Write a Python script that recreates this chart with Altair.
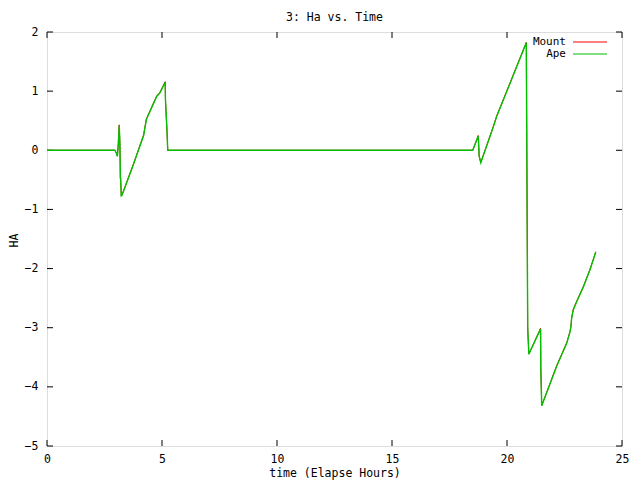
import altair as alt
import pandas as pd

# ---- data ----
t_vals = [0.0, 2.95, 3.02, 3.06, 3.10, 3.14, 3.17, 3.19, 3.20, 3.23, 3.26,
          3.75, 4.20, 4.32, 4.77, 4.91, 5.14, 5.15, 5.22, 5.25,
          18.51, 18.60, 18.71, 18.75, 18.79, 18.86, 19.41, 19.55, 20.13, 20.84,
          20.85, 20.90, 20.95, 21.46, 21.47, 21.51, 22.16, 22.60, 22.74, 22.78,
          22.81, 22.88, 23.03, 23.32, 23.61, 23.86]
ape_vals = [0.0, 0.0, -0.05, -0.10, 0.10, 0.42, 0.10, -0.47, -0.47, -0.77, -0.76,
            -0.25, 0.25, 0.52, 0.91, 0.97, 1.15, 0.86, 0.30, 0.0,
            0.0, 0.09, 0.20, 0.24, -0.10, -0.21, 0.40, 0.57, 1.13, 1.82,
            0.93, -3.00, -3.45, -3.02, -3.68, -4.32, -3.65, -3.26, -3.07, -2.98,
            -2.84, -2.70, -2.56, -2.31, -2.02, -1.72]
mount_vals = [0.0, 0.0, -0.05, -0.10, 0.11, 0.43, 0.11, -0.47, -0.47, -0.77, -0.755,
              -0.24, 0.26, 0.53, 0.92, 0.98, 1.16, 0.86, 0.30, 0.0,
              0.0, 0.095, 0.21, 0.25, -0.10, -0.205, 0.41, 0.58, 1.14, 1.825,
              0.93, -3.00, -3.445, -3.01, -3.68, -4.315, -3.64, -3.25, -3.06, -2.975,
              -2.83, -2.69, -2.55, -2.30, -2.01, -1.715]
series_names = ["Mount", "Ape"]
series_colors = ["#ff0000", "#00c000"]
x_ticks = [0, 5, 10, 15, 20, 25]
y_ticks = [-5, -4, -3, -2, -1, 0, 1, 2]

FONT = "DejaVu Sans Mono"
FS = 11.5
W, H = 575, 414

df = pd.concat([
    pd.DataFrame({"t": t_vals, "v": mount_vals, "series": "Mount"}),
    pd.DataFrame({"t": t_vals, "v": ape_vals, "series": "Ape"}),
])

xscale = alt.Scale(domain=[0, 25], nice=False, zero=False)
yscale = alt.Scale(domain=[-5, 2], nice=False, zero=False)
cscale = alt.Scale(domain=series_names, range=series_colors)

xaxis = alt.Axis(values=x_ticks, ticks=False, domain=False, grid=False,
                 format="d",
                 labelFont=FONT, labelFontSize=FS, labelColor="black",
                 labelPadding=7, title="time (Elapse Hours)",
                 titleFont=FONT, titleFontSize=FS, titleFontWeight="normal",
                 titleColor="black", titlePadding=3, labelFlush=False)
yaxis = alt.Axis(values=y_ticks, ticks=False, domain=False, grid=False,
                 format="d",
                 labelFont=FONT, labelFontSize=FS, labelColor="black",
                 labelPadding=9, title="HA", titleFont=FONT, titleFontSize=FS,
                 titleFontWeight="normal", titleColor="black", titleAngle=270,
                 titleX=-33, titleY=208, titleAlign="center",
                 titleBaseline="middle", labelFlush=False)

widths = {"Mount": 1.0, "Ape": 1.4}
lines = []
for name in series_names:
    lines.append(
        alt.Chart(df[df.series == name]).mark_line(
            strokeWidth=widths[name], clip=True).encode(
            x=alt.X("t:Q", scale=xscale, axis=xaxis),
            y=alt.Y("v:Q", scale=yscale, axis=yaxis),
            color=alt.Color("series:N", scale=cscale, legend=None),
            order=alt.Order("t:Q"),
        )
    )

xt = pd.DataFrame({"x": x_ticks})
yt = pd.DataFrame({"y": y_ticks})
tick_style = dict(color="black", strokeWidth=1)
ticks = [
    alt.Chart(xt).mark_rule(**tick_style).encode(
        x=alt.X("x:Q", scale=xscale), y=alt.value(H), y2=alt.value(H - 6)),
    alt.Chart(xt).mark_rule(**tick_style).encode(
        x=alt.X("x:Q", scale=xscale), y=alt.value(0), y2=alt.value(6)),
    alt.Chart(yt).mark_rule(**tick_style).encode(
        y=alt.Y("y:Q", scale=yscale), x=alt.value(0), x2=alt.value(6)),
    alt.Chart(yt).mark_rule(**tick_style).encode(
        y=alt.Y("y:Q", scale=yscale), x=alt.value(W), x2=alt.value(W - 6)),
]

main = alt.layer(*ticks, *lines)

leg_df = pd.DataFrame({"series": series_names})
leg_y = alt.Y("series:N",
              scale=alt.Scale(type="point", domain=series_names,
                              range=[10, 22], padding=0),
              axis=None)
leg_text = alt.Chart(leg_df).mark_text(
    align="right", baseline="middle", font=FONT, fontSize=11, color="black"
).encode(x=alt.value(519), y=leg_y, text="series:N")
leg_rule = alt.Chart(leg_df).mark_rule(strokeWidth=1.2).encode(
    x=alt.value(526), x2=alt.value(560), y=leg_y,
    color=alt.Color("series:N", scale=cscale, legend=None))
legend = alt.layer(leg_text, leg_rule)

chart = alt.layer(main, legend).resolve_scale(y="independent").properties(
    width=W, height=H,
    title=alt.TitleParams("3: Ha vs. Time", font=FONT, fontSize=FS,
                          fontWeight="normal", color="black", anchor="middle",
                          offset=3),
    padding={"left": 39, "top": 24, "right": 10, "bottom": 34},
    autosize=alt.AutoSizeParams(type="none"),
).configure_view(stroke="black", strokeWidth=1).configure(background="white")

chart.save("out.html", embed_options={"renderer": "svg", "actions": False})
